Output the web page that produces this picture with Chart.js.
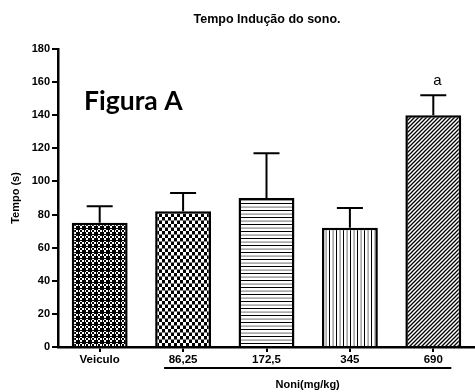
<!DOCTYPE html>
<html>
<head>
<meta charset="utf-8">
<script src="https://cdn.jsdelivr.net/npm/chart.js"></script>
<style>
  html, body { margin: 0; padding: 0; background: #fff; }
  #wrap { width: 475px; height: 392px; position: relative; }
</style>
</head>
<body>
<div id="wrap"><canvas id="chart"></canvas></div>
<script>
// data
const categories = ['Veiculo', '86,25', '172,5', '345', '690'];
const means = [75, 82, 90, 72, 140];
const errors = [10, 11, 27, 12, 12];
const marks = ['', '', '', '', 'a'];
const yTicks = [0, 20, 40, 60, 80, 100, 120, 140, 160, 180];

function makePattern(kind) {
    const c = document.createElement('canvas');
    const g = c.getContext('2d');
    if (kind === 'finecheck') {
        c.width = 6; c.height = 6;
        g.fillStyle = '#fff'; g.fillRect(0, 0, 6, 6);
        g.fillStyle = '#000';
        for (let y = 0; y < 6; y += 2)
            for (let x = 0; x < 6; x += 2)
                if (((x + y) / 2) % 2 === 0) g.fillRect(x, y, 2, 2);
        g.fillRect(0, 0, 6, 1);
        g.fillRect(0, 0, 1, 6);
    } else if (kind === 'check') {
        c.width = 6; c.height = 7;
        g.fillStyle = '#fff'; g.fillRect(0, 0, 6, 7);
        g.fillStyle = '#000';
        g.fillRect(0, 0, 3, 3.5);
        g.fillRect(3, 3.5, 3, 3.5);
    } else if (kind === 'hlines') {
        c.width = 8; c.height = 7;
        g.fillStyle = '#fff'; g.fillRect(0, 0, 8, 7);
        g.fillStyle = '#000'; g.fillRect(0, 0, 8, 1);
        g.fillStyle = '#888'; g.fillRect(0, 3.5, 8, 1.2);
    } else if (kind === 'vlines') {
        c.width = 7; c.height = 8;
        g.fillStyle = '#fff'; g.fillRect(0, 0, 7, 8);
        g.fillStyle = '#000'; g.fillRect(0, 0, 1, 8);
        g.fillStyle = '#888'; g.fillRect(3.5, 0, 1.2, 8);
    } else if (kind === 'diag') {
        c.width = 4; c.height = 4;
        g.fillStyle = '#fff'; g.fillRect(0, 0, 4, 4);
        g.strokeStyle = '#000'; g.lineWidth = 1.3;
        g.beginPath();
        g.moveTo(-1, 5); g.lineTo(5, -1);
        g.moveTo(-1, 1); g.lineTo(1, -1);
        g.moveTo(3, 5); g.lineTo(5, 3);
        g.stroke();
    }
    return g.createPattern(c, 'repeat');
}

const ctx = document.getElementById('chart').getContext('2d');
const fills = ['finecheck', 'check', 'hlines', 'vlines', 'diag'].map(makePattern);
const fontFam = '"Liberation Sans", Arial, sans-serif';

const errorBars = {
    id: 'errorBars',
    afterDatasetsDraw(chart) {
        const g = chart.ctx;
        const y = chart.scales.y;
        const meta = chart.getDatasetMeta(0);
        g.save();
        g.strokeStyle = '#000';
        g.lineWidth = 2;
        meta.data.forEach((bar, i) => {
            const top = y.getPixelForValue(means[i] + errors[i]);
            g.beginPath();
            g.moveTo(bar.x, bar.y);
            g.lineTo(bar.x, top);
            g.moveTo(bar.x - 13, top);
            g.lineTo(bar.x + 13, top);
            g.stroke();
            if (marks[i]) {
                g.fillStyle = '#000';
                g.font = '15px ' + fontFam;
                g.textAlign = 'center';
                g.textBaseline = 'alphabetic';
                g.fillText(marks[i], bar.x + 4, top - 10);
            }
        });
        g.restore();
    }
};

const decorations = {
    id: 'decorations',
    afterDraw(chart) {
        const g = chart.ctx;
        const x = chart.scales.x;
        g.save();
        g.fillStyle = '#000';
        g.textAlign = 'center';
        g.textBaseline = 'middle';
        g.font = 'bold 12.5px ' + fontFam;
        g.fillText('Tempo Indução do sono.', 267, 20);

        g.textAlign = 'left';
        g.textBaseline = 'alphabetic';
        g.font = 'bold 26.5px Lato, "Open Sans", sans-serif';
        g.fillText('Figura A', 84, 110);

        // group line under the doses
        const x0 = x.getPixelForValue(1) - 19;
        const x1 = x.getPixelForValue(4) + 18;
        g.strokeStyle = '#000';
        g.lineWidth = 2;
        g.beginPath();
        g.moveTo(x0, 368);
        g.lineTo(x1, 368);
        g.stroke();

        g.textAlign = 'center';
        g.textBaseline = 'middle';
        g.font = 'bold 11px ' + fontFam;
        g.fillText('Noni(mg/kg)', (x0 + x1) / 2, 385);
        g.restore();
    }
};

new Chart(ctx, {
    type: 'bar',
    data: {
        labels: categories,
        datasets: [{
            data: means,
            backgroundColor: fills,
            borderColor: '#000',
            borderWidth: 2.5,
            borderSkipped: 'bottom',
            categoryPercentage: 1,
            barPercentage: 0.67
        }]
    },
    options: {
        responsive: true,
        maintainAspectRatio: false,
        animation: false,
        layout: { padding: { top: 49, right: 0, left: 0, bottom: 0 } },
        plugins: {
            legend: { display: false },
            tooltip: { enabled: false }
        },
        scales: {
            x: {
                grid: { display: true, offset: false, drawOnChartArea: false, drawTicks: true, tickLength: 5, color: '#000', lineWidth: 2 },
                border: { display: true, color: '#000', width: 2.5 },
                ticks: {
                    color: '#000',
                    padding: 1,
                    maxRotation: 0,
                    font: { family: fontFam, size: 11.5, weight: 'bold' }
                },
                afterFit(scale) { scale.height = 45; }
            },
            y: {
                min: 0,
                max: 180,
                afterBuildTicks(scale) { scale.ticks = yTicks.map(v => ({ value: v })); },
                grid: { display: true, drawOnChartArea: false, drawTicks: true, tickLength: 6, color: '#000', lineWidth: 2 },
                border: { display: true, color: '#000', width: 2.5 },
                ticks: {
                    color: '#000',
                    padding: 2,
                    font: { family: fontFam, size: 11, weight: 'bold' }
                },
                title: {
                    display: true,
                    text: 'Tempo (s)',
                    color: '#000',
                    padding: { top: 9, bottom: 0 },
                    font: { family: fontFam, size: 11, weight: 'bold' }
                },
                afterFit(scale) { scale.width = 58; }
            }
        }
    },
    plugins: [errorBars, decorations]
});
</script>
</body>
</html>
